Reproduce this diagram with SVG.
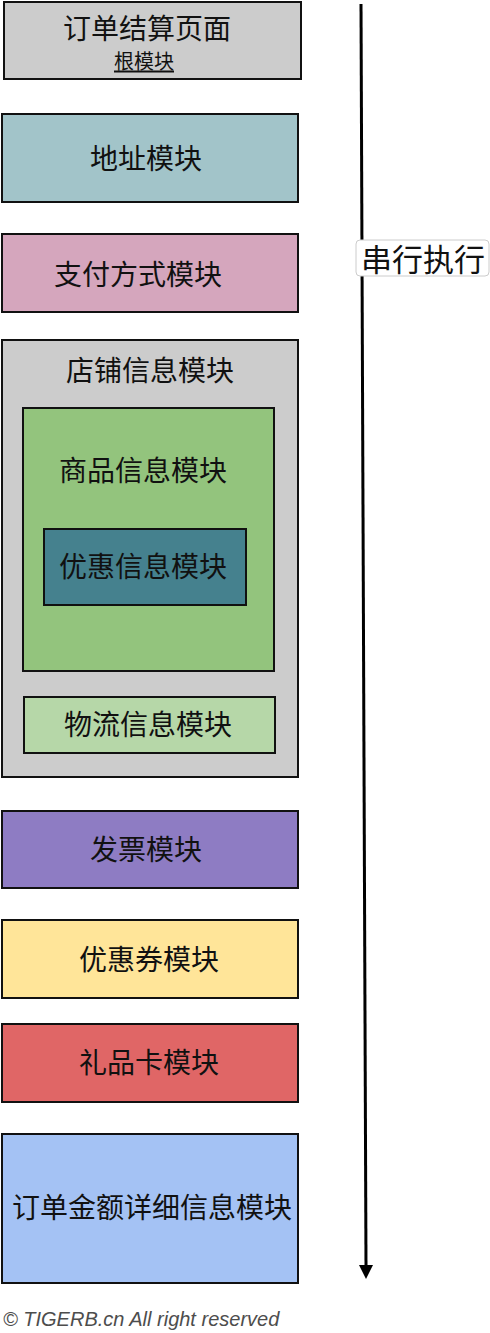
<svg xmlns="http://www.w3.org/2000/svg" width="490" height="1333" viewBox="0 0 490 1333">
<style>
.box{stroke:#111;stroke-width:2}
.t{font-family:"Noto Sans CJK SC","Liberation Sans",sans-serif;font-size:28px;fill:#111;text-anchor:middle;dominant-baseline:central}
.s{font-size:20px;text-decoration:underline}
.foot{font-family:"Liberation Sans",sans-serif;font-style:italic;font-size:20px;fill:#4d4d4d}
</style>
<defs>
<marker id="ah" markerWidth="6" markerHeight="6" refX="3" refY="3" orient="auto" markerUnits="userSpaceOnUse" viewBox="0 0 6 6">
<path d="M0,0 L6,3 L0,6 z" fill="#000"/>
</marker>
</defs>
<rect width="490" height="1333" fill="#fff"/>
<g id="root"><rect class="box" x="4" y="2" width="297" height="77" fill="#cccccc"/><text class="t" x="147" y="27">订单结算页面</text><text class="t s" x="144" y="60">根模块</text></g>
<g id="address"><rect class="box" x="2" y="114" width="296" height="88" fill="#a2c4c9"/><text class="t" x="146" y="157">地址模块</text></g>
<g id="payment"><rect class="box" x="2" y="234" width="296" height="78" fill="#d5a6bd"/><text class="t" x="138" y="273">支付方式模块</text></g>
<g id="shop"><rect class="box" x="2" y="340" width="296" height="437" fill="#cccccc"/><text class="t" x="150" y="369">店铺信息模块</text>
<g id="goods"><rect class="box" x="23" y="408" width="251" height="263" fill="#93c47d"/><text class="t" x="143" y="469">商品信息模块</text>
<g id="promo"><rect class="box" x="44" y="529" width="202" height="76" fill="#45818e"/><text class="t" x="143" y="565">优惠信息模块</text></g></g>
<g id="logistics"><rect class="box" x="24" y="697" width="251" height="56" fill="#b6d7a8"/><text class="t" x="148" y="723">物流信息模块</text></g></g>
<g id="invoice"><rect class="box" x="2" y="811" width="296" height="77" fill="#8e7cc3"/><text class="t" x="146" y="848">发票模块</text></g>
<g id="coupon"><rect class="box" x="2" y="920" width="296" height="78" fill="#ffe599"/><text class="t" x="149" y="958">优惠券模块</text></g>
<g id="giftcard"><rect class="box" x="2" y="1024" width="296" height="78" fill="#e06666"/><text class="t" x="149" y="1061">礼品卡模块</text></g>
<g id="amount"><rect class="box" x="2" y="1134" width="296" height="149" fill="#a4c2f4"/><text class="t" x="152" y="1206">订单金额详细信息模块</text></g>
<g id="connectors">
<line x1="361" y1="4" x2="366" y2="1268" stroke="#000" stroke-width="3" marker-end="url(#ah)"/>
<path d="M359,1265 L373,1265 L366,1279 z" fill="#000"/>
<rect x="356" y="240" width="133" height="36" rx="4" fill="#fff" stroke="#ccc" stroke-width="1"/>
<text class="t" x="423" y="257" style="font-size:31px">串行执行</text>
</g>
<text class="foot" x="3" y="1326">© TIGERB.cn All right reserved</text>
</svg>
